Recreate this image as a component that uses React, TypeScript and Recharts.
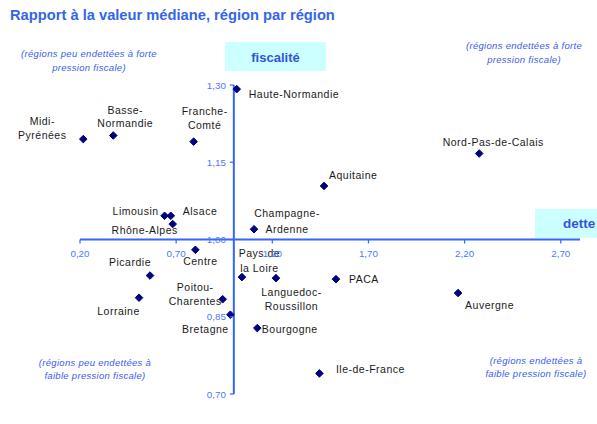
import React from 'react';
import { ScatterChart, Scatter, XAxis, YAxis, ReferenceLine } from 'recharts';

// ---------- data ----------
const regions = [
  'Haute-Normandie', 'Midi-Pyrénées', 'Basse-Normandie', 'Franche-Comté', 'Limousin',
  'Alsace', 'Rhône-Alpes', 'Champagne-Ardenne', 'Aquitaine', 'Nord-Pas-de-Calais',
  'Centre', 'Picardie', 'Lorraine', 'Poitou-Charentes', 'Bretagne',
  'Pays de la Loire', 'Languedoc-Roussillon', 'PACA', 'Bourgogne', 'Ile-de-France', 'Auvergne',
];
const detteValues = [
  1.015, 0.217, 0.373, 0.791, 0.640,
  0.672, 0.682, 1.105, 1.469, 2.276,
  0.800, 0.564, 0.507, 0.942, 0.982,
  1.042, 1.219, 1.531, 1.122, 1.445, 2.166,
];
const fiscaliteValues = [
  1.292, 1.195, 1.202, 1.190, 1.046,
  1.046, 1.030, 1.020, 1.104, 1.167,
  0.980, 0.930, 0.887, 0.884, 0.854,
  0.927, 0.925, 0.923, 0.828, 0.740, 0.896,
];
const labelLines: string[][] = [
  ['Haute-Normandie'], ['Midi-', 'Pyrénées'], ['Basse-', 'Normandie'], ['Franche-', 'Comté'], ['Limousin'],
  ['Alsace'], ['Rhône-Alpes'], ['Champagne-', 'Ardenne'], ['Aquitaine'], ['Nord-Pas-de-Calais'],
  ['Centre'], ['Picardie'], ['Lorraine'], ['Poitou-', 'Charentes'], ['Bretagne'],
  ['Pays de', 'la Loire'], ['Languedoc-', 'Roussillon'], ['PACA'], ['Bourgogne'], ['Ile-de-France'], ['Auvergne'],
];
const xTicks = [0.2, 0.7, 1.2, 1.7, 2.2, 2.7];
const yTicks = [0.7, 0.85, 1.0, 1.15, 1.3];
const xDomain = [0.2, 2.8];
const yDomain = [0.7, 1.3];
const crossX = 1.0;
const crossY = 1.0;

const title = 'Rapport à la valeur médiane, région par région';
const yAxisTitle = 'fiscalité';
const xAxisTitle = 'dette';
const noteTopLeft = ['(régions peu endettées à forte', 'pression fiscale)'];
const noteTopRight = ['(régions endettées à forte', 'pression fiscale)'];
const noteBottomLeft = ['(régions peu endettées à', 'faible pression fiscale)'];
const noteBottomRight = ['(régions endettées à', 'faible pression fiscale)'];

// ---------- styling / layout ----------
const W = 597;
const H = 424;
const PLOT = { top: 85, right: 17, bottom: 30, left: 80 };
const X_AXIS_H = 30;
const Y_AXIS_W = 80;
const M = { top: PLOT.top, right: PLOT.right, bottom: PLOT.bottom - X_AXIS_H, left: PLOT.left - Y_AXIS_W };
const plotW = W - PLOT.left - PLOT.right;
const plotH = H - PLOT.top - PLOT.bottom;
const xC = PLOT.left + ((crossX - xDomain[0]) / (xDomain[1] - xDomain[0])) * plotW;
const yC = PLOT.top + ((yDomain[1] - crossY) / (yDomain[1] - yDomain[0])) * plotH;

const AXIS = '#3366ff';
const TICK_TXT = '#4d78ff';
const NOTE = '#3a5cf0';
const TITLE = '#3366e8';
const FONT = 'Arial, "Liberation Sans", sans-serif';

type Place = { a: 'start' | 'middle' | 'end'; dx: number; dys: number[] };
const placement: Record<string, Place> = {
  'Haute-Normandie': { a: 'start', dx: 12, dys: [5] },
  'Midi-Pyrénées': { a: 'middle', dx: -41, dys: [-18, -4] },
  'Basse-Normandie': { a: 'middle', dx: 12, dys: [-25.5, -12] },
  'Franche-Comté': { a: 'middle', dx: 11, dys: [-30, -16] },
  'Limousin': { a: 'end', dx: -6, dys: [-4.3] },
  'Alsace': { a: 'start', dx: 12, dys: [-4.3] },
  'Rhône-Alpes': { a: 'middle', dx: -28, dys: [6] },
  'Champagne-Ardenne': { a: 'middle', dx: 33, dys: [-16, 0] },
  'Aquitaine': { a: 'start', dx: 5, dys: [-10.7] },
  'Nord-Pas-de-Calais': { a: 'middle', dx: 14, dys: [-11.3] },
  'Centre': { a: 'middle', dx: 5, dys: [11.7] },
  'Picardie': { a: 'middle', dx: -20, dys: [-13.6] },
  'Lorraine': { a: 'middle', dx: -20.5, dys: [13.3] },
  'Poitou-Charentes': { a: 'middle', dx: -27.5, dys: [-12, 1.7] },
  'Bretagne': { a: 'middle', dx: -25, dys: [14.6] },
  'Pays de la Loire': { a: 'middle', dx: 17.5, dys: [-23.3, -9] },
  'Languedoc-Roussillon': { a: 'middle', dx: 15.5, dys: [14, 28.4] },
  'PACA': { a: 'start', dx: 13, dys: [0.3] },
  'Bourgogne': { a: 'start', dx: 4.5, dys: [1] },
  'Ile-de-France': { a: 'start', dx: 16.5, dys: [-4] },
  'Auvergne': { a: 'start', dx: 7, dys: [12.7] },
};

const data = regions.map((name, i) => ({
  name,
  x: detteValues[i],
  y: fiscaliteValues[i],
  lines: labelLines[i],
}));

const fmt = (v: number) => v.toFixed(2).replace('.', ',');

const XTick = (props: any) => {
  const { x, payload } = props;
  return (
    <g>
      <line x1={x} x2={x} y1={yC} y2={yC + 4} stroke={AXIS} strokeWidth={1.2} />
      <text x={x} y={yC + 17.3} textAnchor="middle" fontSize={9.8} fill={TICK_TXT} fontFamily={FONT}>
        {fmt(payload.value)}
      </text>
    </g>
  );
};

const YTick = (props: any) => {
  const { y, payload } = props;
  return (
    <g>
      <line x1={xC - 4} x2={xC} y1={y} y2={y} stroke={AXIS} strokeWidth={1.2} />
      <text x={xC - 8} y={y + 3.6} textAnchor="end" fontSize={9.8} fill={TICK_TXT} fontFamily={FONT}>
        {fmt(payload.value)}
      </text>
    </g>
  );
};

const PointShape = (props: any) => {
  const { cx, cy, payload } = props;
  if (cx == null || cy == null) return null;
  const p = placement[payload.name] || { a: 'start', dx: 8, dys: [0] };
  const s = 3.8;
  return (
    <g>
      <polygon
        points={`${cx},${cy - s} ${cx + s},${cy} ${cx},${cy + s} ${cx - s},${cy}`}
        fill="#000080"
        stroke="#000080"
        strokeWidth={1}
        strokeLinejoin="round"
      />
      {payload.lines.map((ln: string, k: number) => (
        <text
          key={k}
          x={cx + p.dx}
          y={cy + p.dys[k] + 3.6}
          textAnchor={p.a}
          fontSize={10.5}
          letterSpacing={0.5}
          fill="#1a1a1a"
          fontFamily={FONT}
        >
          {ln}
        </text>
      ))}
    </g>
  );
};

const Note = ({ lines, cx, y0 }: { lines: string[]; cx: number; y0: number }) => (
  <text textAnchor="middle" fontSize={9.5} fontStyle="italic" fill={NOTE} fontFamily={FONT} letterSpacing={0.3}>
    {lines.map((l, i) => (
      <tspan key={i} x={cx} y={y0 + i * 13.5}>
        {l}
      </tspan>
    ))}
  </text>
);

export default function App() {
  return (
    <div style={{ position: 'absolute', left: 0, top: 0, width: W, height: H, background: '#fff', fontFamily: FONT }}>
      <ScatterChart width={W} height={H} margin={M}>
        <XAxis
          type="number"
          dataKey="x"
          domain={xDomain}
          ticks={xTicks}
          interval={0}
          axisLine={false}
          tickLine={false}
          height={X_AXIS_H}
          tick={<XTick />}
        />
        <YAxis
          type="number"
          dataKey="y"
          domain={yDomain}
          ticks={yTicks}
          interval={0}
          axisLine={false}
          tickLine={false}
          width={Y_AXIS_W}
          tick={<YTick />}
        />
        <ReferenceLine x={crossX} stroke={AXIS} strokeWidth={2} />
        <ReferenceLine y={crossY} stroke={AXIS} strokeWidth={2} />
        <Scatter data={data} shape={PointShape} isAnimationActive={false} />
      </ScatterChart>
      <svg width={W} height={H} style={{ position: 'absolute', left: 0, top: 0, pointerEvents: 'none' }}>
        <text x={10} y={20} fontSize={14.7} fontWeight="bold" fill={TITLE} fontFamily={FONT}>
          {title}
        </text>
        <rect x={225} y={42} width={101} height={29} fill="#ccffff" />
        <text x={275.5} y={61.5} textAnchor="middle" fontSize={13} fontWeight="bold" fill="#3355dd" fontFamily={FONT}>
          {yAxisTitle}
        </text>
        <rect x={535} y={209} width={62} height={29} fill="#ccffff" />
        <text x={563} y={227.5} fontSize={13.5} fontWeight="bold" fill="#3355dd" fontFamily={FONT}>
          {xAxisTitle}
        </text>
        <Note lines={noteTopLeft} cx={89} y0={57} />
        <Note lines={noteTopRight} cx={524} y0={49} />
        <Note lines={noteBottomLeft} cx={95} y0={365.5} />
        <Note lines={noteBottomRight} cx={536} y0={363.5} />
      </svg>
    </div>
  );
}
